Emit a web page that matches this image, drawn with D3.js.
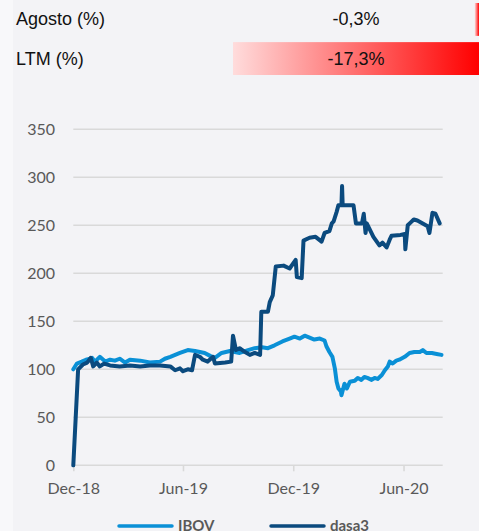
<!DOCTYPE html>
<html>
<head>
<meta charset="utf-8">
<script src="https://cdn.jsdelivr.net/npm/d3@7"></script>
<style>
  html, body { margin: 0; padding: 0; background: #f8f8fa; }
  svg { display: block; }
</style>
</head>
<body>
<div id="chart"></div>
<script>
/* global d3 */

var w = 479,
    h = 531;

// header rows
var headerLabels = ["Agosto (%)", "LTM (%)"];
var headerValues = [-0.3, -17.3];

// series (rebased to 100)
var ibovDates = [
  "2018-12-28", "2019-01-03", "2019-01-11", "2019-01-18", "2019-01-25", "2019-01-28", "2019-02-02",
  "2019-02-10", "2019-02-19", "2019-02-27", "2019-03-07", "2019-03-15", "2019-03-24", "2019-04-01",
  "2019-04-18", "2019-05-04", "2019-05-21", "2019-05-29", "2019-06-07", "2019-06-15", "2019-06-23",
  "2019-07-06", "2019-07-18", "2019-07-26", "2019-08-03", "2019-08-12", "2019-08-20", "2019-08-31",
  "2019-09-14", "2019-09-30", "2019-10-14", "2019-10-25", "2019-11-06", "2019-11-16", "2019-11-27",
  "2019-12-10", "2019-12-22", "2019-12-30", "2020-01-08", "2020-01-16", "2020-01-24", "2020-02-01",
  "2020-02-10", "2020-02-18", "2020-02-21", "2020-02-26", "2020-03-02", "2020-03-06", "2020-03-09",
  "2020-03-12", "2020-03-16", "2020-03-17", "2020-03-22", "2020-03-26", "2020-03-31", "2020-04-08",
  "2020-04-13", "2020-04-19", "2020-04-24", "2020-04-29", "2020-05-06", "2020-05-11", "2020-05-16",
  "2020-05-23", "2020-05-28", "2020-06-02", "2020-06-05", "2020-06-10", "2020-06-16", "2020-06-21",
  "2020-06-30", "2020-07-08", "2020-07-16", "2020-07-25", "2020-07-30", "2020-08-05", "2020-08-14",
  "2020-08-22", "2020-08-30"
];
var ibovValues = [
  100, 106, 108, 110, 111, 112, 108,
  113, 108, 110, 109, 111, 107, 110,
  109, 107, 108, 111, 113, 115, 117,
  120, 119, 118, 117, 114, 112, 117,
  119, 117, 120, 122, 123, 122, 125,
  129, 132, 134, 132, 135, 133, 131,
  132, 130, 124, 118, 113, 101, 87,
  80, 77, 73, 85, 80, 87, 88,
  91, 89, 92, 91, 89, 91, 90,
  94, 99, 103, 108, 106, 109, 110,
  113, 117, 118, 118, 120, 117, 117,
  116, 115
];

var dasaDates = [
  "2018-12-28", "2019-01-05", "2019-01-13", "2019-01-20", "2019-01-26", "2019-01-30", "2019-02-05",
  "2019-02-10", "2019-02-17", "2019-02-27", "2019-03-15", "2019-04-01", "2019-04-18", "2019-05-04",
  "2019-05-21", "2019-06-07", "2019-06-15", "2019-06-23", "2019-06-28", "2019-07-06", "2019-07-13",
  "2019-07-18", "2019-07-26", "2019-07-31", "2019-08-08", "2019-08-17", "2019-08-20", "2019-09-06",
  "2019-09-16", "2019-09-19", "2019-09-24", "2019-09-30", "2019-10-09", "2019-10-17", "2019-10-25",
  "2019-11-03", "2019-11-05", "2019-11-16", "2019-11-19", "2019-11-24", "2019-11-29", "2019-12-12",
  "2019-12-22", "2020-01-01", "2020-01-03", "2020-01-11", "2020-01-14", "2020-01-24", "2020-02-03",
  "2020-02-13", "2020-02-18", "2020-02-26", "2020-03-01", "2020-03-04", "2020-03-09", "2020-03-12",
  "2020-03-17", "2020-03-18", "2020-03-19", "2020-04-06", "2020-04-10", "2020-04-20", "2020-04-23",
  "2020-04-26", "2020-04-28", "2020-05-09", "2020-05-19", "2020-05-24", "2020-05-31", "2020-06-05",
  "2020-06-08", "2020-06-23", "2020-06-30", "2020-07-01", "2020-07-05", "2020-07-10", "2020-07-15",
  "2020-07-21", "2020-08-07", "2020-08-10", "2020-08-15", "2020-08-20", "2020-08-27"
];
var dasaValues = [
  0, 100, 105, 107, 112, 103, 107,
  103, 106, 104, 103, 104, 103, 104,
  104, 103, 99, 101, 98, 100, 99,
  115, 113, 110, 108, 113, 106, 107,
  108, 135, 120, 122, 118, 115, 117,
  115, 160, 160, 170, 177, 207, 208,
  205, 214, 196, 195, 234, 237, 238,
  233, 242, 244, 252, 254, 264, 271,
  271, 291, 271, 271, 252, 252, 262,
  242, 252, 238, 229, 232, 227, 235,
  239, 240, 241, 225, 250, 253, 256,
  255, 249, 242, 263, 262, 252
];

var seriesNames = ["IBOV", "dasa3"];
var seriesColors = ["#0a90d6", "#0b4a7e"];

var xTickDates = ["2018-12-28", "2019-06-28", "2019-12-28", "2020-06-28"];
var yTicks = [0, 50, 100, 150, 200, 250, 300, 350];

var parseDate = d3.timeParse("%Y-%m-%d");
var fmtTick = d3.timeFormat("%b-%y");
var ptBR = d3.formatLocale({ decimal: ",", thousands: ".", grouping: [3], currency: ["R$", ""], minus: "-" });
var fmtPct = ptBR.format(".1f");

var ibov = ibovDates.map(function(d, i) { return { date: parseDate(d), value: ibovValues[i] }; });
var dasa = dasaDates.map(function(d, i) { return { date: parseDate(d), value: dasaValues[i] }; });

var svg = d3.select("#chart").append("svg")
    .attr("width", w)
    .attr("height", h);

// panel background
svg.append("rect")
    .attr("x", 13).attr("y", 0)
    .attr("width", w - 13).attr("height", h)
    .attr("fill", "#f3f3f6");

// ---- header with data bars
var defs = svg.append("defs");
var grad = defs.append("linearGradient")
    .attr("id", "redbar")
    .attr("x1", "0%").attr("x2", "100%").attr("y1", "0%").attr("y2", "0%");
grad.append("stop").attr("offset", "0%").attr("stop-color", "#ffdcdc");
grad.append("stop").attr("offset", "100%").attr("stop-color", "#ff0000");

var barRight = 479;
var barScale = d3.scaleLinear()
    .domain([0, d3.max(headerValues, function(d) { return Math.abs(d); })])
    .range([0, 246]);
var rowY = d3.scaleBand().domain(headerLabels).range([2, 74]).paddingInner(0.16);

var rows = svg.selectAll(".hrow")
    .data(headerLabels)
    .enter().append("g")
    .attr("class", "hrow");

rows.append("rect")
    .attr("x", function(d, i) { return barRight - barScale(Math.abs(headerValues[i])); })
    .attr("y", function(d) { return rowY(d) + 1; })
    .attr("width", function(d, i) { return barScale(Math.abs(headerValues[i])); })
    .attr("height", rowY.bandwidth())
    .attr("fill", "url(#redbar)");

rows.append("text")
    .attr("x", 16)
    .attr("y", function(d) { return rowY(d) + rowY.bandwidth() / 2 + 7; })
    .style("font-family", "'Liberation Sans', Arial, sans-serif")
    .style("font-size", "18px")
    .style("fill", "#111")
    .text(function(d) { return d; });

rows.append("text")
    .attr("x", 356)
    .attr("y", function(d) { return rowY(d) + rowY.bandwidth() / 2 + 7; })
    .attr("text-anchor", "middle")
    .style("font-family", "'Liberation Sans', Arial, sans-serif")
    .style("font-size", "18px")
    .style("fill", "#111")
    .text(function(d, i) { return fmtPct(headerValues[i]) + "%"; });

// ---- line chart
var x = d3.scaleTime()
    .domain([parseDate("2018-12-28"), parseDate("2020-09-01")])
    .range([73.3, 442.7]);
var y = d3.scaleLinear().domain([0, 350]).range([465.3, 129.3]);

var gridColor = "#d9d9d9";
var labelFont = "Lato, 'Open Sans', sans-serif";

svg.selectAll(".grid")
    .data(yTicks)
    .enter().append("line")
    .attr("class", "grid")
    .attr("x1", x.range()[0]).attr("x2", x.range()[1])
    .attr("y1", function(d) { return y(d); })
    .attr("y2", function(d) { return y(d); })
    .attr("stroke", gridColor)
    .attr("stroke-width", 1.6);

svg.selectAll(".ylab")
    .data(yTicks)
    .enter().append("text")
    .attr("class", "ylab")
    .attr("x", 55)
    .attr("y", function(d) { return y(d); })
    .attr("dy", "0.36em")
    .attr("text-anchor", "end")
    .style("font-family", labelFont)
    .style("font-size", "16px")
    .style("fill", "#595959")
    .text(function(d) { return d; });

var xAxis = svg.append("g")
    .attr("transform", "translate(0," + y(0) + ")")
    .call(d3.axisBottom(x)
        .tickValues(xTickDates.map(parseDate))
        .tickFormat(fmtTick)
        .tickSize(6)
        .tickPadding(11));
xAxis.select(".domain").remove();
xAxis.selectAll(".tick line").attr("stroke", gridColor).attr("stroke-width", 1.6);
xAxis.selectAll(".tick text")
    .style("font-family", labelFont)
    .style("font-size", "16px")
    .style("fill", "#595959");

var line = d3.line()
    .x(function(d) { return x(d.date); })
    .y(function(d) { return y(d.value); });

svg.selectAll(".series")
    .data([ibov, dasa])
    .enter().append("path")
    .attr("class", "series")
    .attr("d", line)
    .attr("fill", "none")
    .attr("stroke", function(d, i) { return seriesColors[i]; })
    .attr("stroke-width", 4)
    .attr("stroke-linejoin", "round")
    .attr("stroke-linecap", "round");

// ---- legend (cut at the bottom edge, as in the source)
var legendX = [119, 271];
var legend = svg.selectAll(".legend")
    .data(seriesNames)
    .enter().append("g")
    .attr("class", "legend")
    .attr("transform", function(d, i) { return "translate(" + legendX[i] + ",526)"; });

legend.append("line")
    .attr("x1", 0).attr("x2", 53)
    .attr("stroke", function(d, i) { return seriesColors[i]; })
    .attr("stroke-width", 3.5)
    .attr("stroke-linecap", "round");

legend.append("text")
    .attr("x", 59)
    .attr("y", 5)
    .style("font-family", labelFont)
    .style("font-size", "15px")
    .style("font-weight", "bold")
    .style("fill", "#595959")
    .text(function(d) { return d; });
</script>
</body>
</html>
